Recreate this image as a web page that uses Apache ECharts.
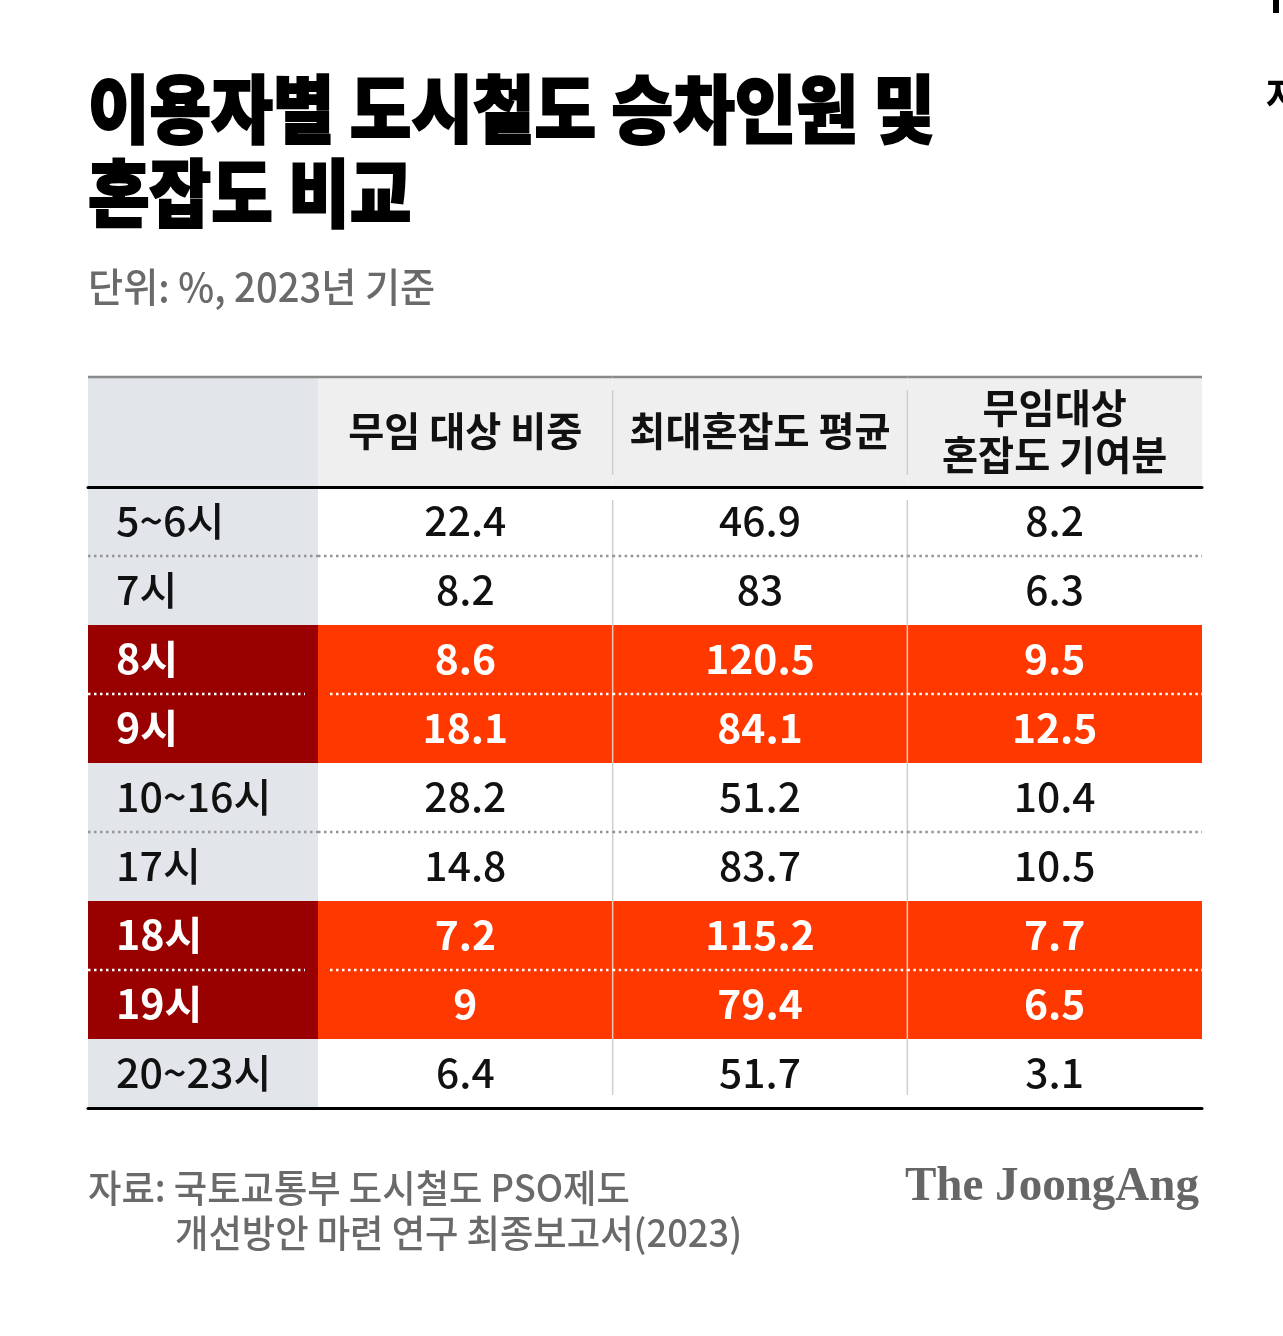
<!DOCTYPE html>
<html>
<head>
<meta charset="utf-8">
<script src="https://cdn.jsdelivr.net/npm/echarts@6/dist/echarts.min.js"></script>
<style>
  html, body { margin: 0; padding: 0; background: #fff; }
  #chart { width: 1283px; height: 1336px; }
</style>
</head>
<body>
<div id="chart"></div>
<script>
  // table data
  const ROW_LABELS = ['5~6시', '7시', '8시', '9시', '10~16시', '17시', '18시', '19시', '20~23시'];
  const FREE_SHARE = [22.4, 8.2, 8.6, 18.1, 28.2, 14.8, 7.2, 9, 6.4];
  const PEAK_CONGESTION = [46.9, 83, 120.5, 84.1, 51.2, 83.7, 115.2, 79.4, 51.7];
  const FREE_CONTRIBUTION = [8.2, 6.3, 9.5, 12.5, 10.4, 10.5, 7.7, 6.5, 3.1];
  const HIGHLIGHT_ROWS = ['8시', '9시', '18시', '19시'];
  const COLUMN_NAMES = ['무임 대상 비중', '최대혼잡도 평균', '무임대상\n혼잡도 기여분'];

  const TITLE_LINES = ['이용자별 도시철도 승차인원 및', '혼잡도 비교'];
  const UNIT_TEXT = '단위: %, 2023년 기준';
  const SOURCE_LINES = ['자료: 국토교통부 도시철도 PSO제도', '개선방안 마련 연구 최종보고서(2023)'];
  const BRAND = 'The JoongAng';

  const FONT = '"Noto Sans CJK KR", "Noto Sans", sans-serif';
  const RED = '#ff3800';
  const DARK_RED = '#990000';
  const LABEL_BG = '#e2e6ea';
  const HEAD_BG = '#efefef';
  const HEADER_H = 110;
  const DOT = { lineWidth: 2.5, lineDash: [2.5, 3.5] };

  const columns = [FREE_SHARE, PEAK_CONGESTION, FREE_CONTRIBUTION];
  const cellData = [];
  ROW_LABELS.forEach(function (r, ri) {
    columns.forEach(function (col, ci) { cellData.push([ci, ri, col[ri]]); });
  });
  const labelData = ROW_LABELS.map(function (r, ri) { return [0, ri]; });
  const headerData = COLUMN_NAMES.map(function (n, ci) { return [ci, 0]; });

  function isHot(ri) { return HIGHLIGHT_ROWS.indexOf(ROW_LABELS[ri]) >= 0; }
  function dottedAfter(ri) { return ri % 2 === 0 && ri < ROW_LABELS.length - 1; }

  function dotted(x1, x2, y, hot) {
    return {
      type: 'line', z2: 10,
      shape: { x1: x1, y1: y, x2: x2, y2: y },
      style: { stroke: hot ? '#ffffff' : '#949494', lineWidth: DOT.lineWidth, lineDash: DOT.lineDash }
    };
  }

  function renderLabel(params, api) {
    const ri = api.value(1);
    const c = api.coord([0, ri]);
    const s = api.size([1, 1]);
    const x0 = c[0] - s[0] / 2, y0 = c[1] - s[1] / 2;
    const hot = isHot(ri);
    const kids = [{
      type: 'rect', shape: { x: x0, y: y0, width: s[0], height: s[1] },
      style: { fill: hot ? DARK_RED : LABEL_BG }
    }];
    if (dottedAfter(ri)) kids.push(dotted(x0, x0 + s[0] - (hot ? 13 : 0), y0 + s[1], hot));
    kids.push({
      type: 'text', z2: 11, x: x0 + 28, y: c[1] - 1, scaleX: 1.03,
      style: {
        text: ROW_LABELS[ri], fill: hot ? '#fff' : '#111',
        fontSize: 40, fontWeight: hot ? 'bold' : 500, fontFamily: FONT,
        align: 'left', verticalAlign: 'middle'
      }
    });
    return { type: 'group', children: kids };
  }

  function renderCell(params, api) {
    const ci = api.value(0), ri = api.value(1);
    const c = api.coord([ci, ri]);
    const s = api.size([1, 1]);
    const x0 = c[0] - s[0] / 2, y0 = c[1] - s[1] / 2;
    const hot = isHot(ri);
    const kids = [{
      type: 'rect', shape: { x: x0, y: y0, width: s[0], height: s[1] },
      style: { fill: hot ? RED : '#ffffff' }
    }];
    if (ci > 0) {
      const top = ri === 0 ? y0 + 13 : y0;
      const bot = ri === ROW_LABELS.length - 1 ? y0 + s[1] - 13 : y0 + s[1];
      kids.push({
        type: 'line', z2: 9,
        shape: { x1: x0, y1: top, x2: x0, y2: bot },
        style: { stroke: hot ? 'rgba(235,235,235,0.75)' : '#cfcfcf', lineWidth: 1.5 }
      });
    }
    if (dottedAfter(ri)) kids.push(dotted(x0 + (hot && ci === 0 ? 12 : 0), x0 + s[0], y0 + s[1], hot));
    kids.push({
      type: 'text', z2: 11, x: c[0], y: c[1] - 1, scaleX: 1.02,
      style: {
        text: String(api.value(2)), fill: hot ? '#fff' : '#111',
        fontSize: 40, fontWeight: hot ? 'bold' : 500, fontFamily: FONT,
        align: 'center', verticalAlign: 'middle'
      }
    });
    return { type: 'group', children: kids };
  }

  function renderHeader(params, api) {
    const ci = api.value(0);
    const c = api.coord([ci, 0]);
    const s = api.size([1, 1]);
    const x0 = c[0] - s[0] / 2;
    const yb = c[1] - s[1] / 2;
    const yt = yb - HEADER_H;
    const kids = [
      { type: 'rect', shape: { x: x0, y: yt, width: s[0], height: HEADER_H }, style: { fill: HEAD_BG } },
      { type: 'line', z2: 10, shape: { x1: x0, y1: yt, x2: x0 + s[0], y2: yt }, style: { stroke: '#8a8a8a', lineWidth: 2.5 } }
    ];
    if (ci > 0) {
      kids.push({
        type: 'line', z2: 9, shape: { x1: x0, y1: yt + 13, x2: x0, y2: yb - 12 },
        style: { stroke: '#cfcfcf', lineWidth: 1.5 }
      });
    }
    kids.push({
      type: 'text', z2: 11, x: c[0], y: yt + HEADER_H / 2 - 1, scaleX: 0.98,
      style: {
        text: COLUMN_NAMES[ci], fill: '#111', fontSize: 40, lineHeight: 47,
        fontWeight: 600, fontFamily: FONT, align: 'center', verticalAlign: 'middle'
      }
    });
    return { type: 'group', children: kids };
  }

  function renderLabelHeader(params, api) {
    const c = api.coord([0, 0]);
    const s = api.size([1, 1]);
    const x0 = c[0] - s[0] / 2;
    const yt = c[1] - s[1] / 2 - HEADER_H;
    return {
      type: 'group', children: [
        { type: 'rect', shape: { x: x0, y: yt, width: s[0], height: HEADER_H }, style: { fill: LABEL_BG } },
        { type: 'line', z2: 10, shape: { x1: x0, y1: yt, x2: x0 + s[0], y2: yt }, style: { stroke: '#8a8a8a', lineWidth: 2.5 } }
      ]
    };
  }

  function edgeAxis(gridIndex, data, position) {
    return {
      type: 'category', gridIndex: gridIndex, data: data, position: position, z: 5,
      axisLine: { show: true, lineStyle: { color: '#000', width: 3 } },
      axisTick: { show: false }, axisLabel: { show: false }, splitLine: { show: false }
    };
  }

  function rowAxis(gridIndex) {
    return {
      type: 'category', gridIndex: gridIndex, data: ROW_LABELS, inverse: true,
      axisLine: { show: false }, axisTick: { show: false }, axisLabel: { show: false }, splitLine: { show: false }
    };
  }

  function txt(x, y, text, size, weight, color, scaleX, stroke) {
    const style = { text: text, fontSize: size, fontWeight: weight, fill: color, fontFamily: FONT, verticalAlign: 'middle' };
    if (stroke) { style.stroke = color; style.lineWidth = stroke; }
    return { type: 'text', x: x, y: y, scaleX: scaleX || 1, style: style };
  }

  const chart = echarts.init(document.getElementById('chart'));
  chart.setOption({
    backgroundColor: '#ffffff',
    animation: false,
    grid: [
      { left: 88, top: 487, width: 230, height: 621 },
      { left: 318, top: 487, width: 884, height: 621 }
    ],
    xAxis: [
      edgeAxis(0, [''], 'top'),
      edgeAxis(0, [''], 'bottom'),
      edgeAxis(1, COLUMN_NAMES, 'top'),
      edgeAxis(1, COLUMN_NAMES, 'bottom')
    ],
    yAxis: [rowAxis(0), rowAxis(1)],
    series: [
      { type: 'custom', xAxisIndex: 0, yAxisIndex: 0, data: [[0, 0]], renderItem: renderLabelHeader, clip: false },
      { type: 'custom', xAxisIndex: 2, yAxisIndex: 1, data: headerData, renderItem: renderHeader, clip: false },
      { type: 'custom', xAxisIndex: 0, yAxisIndex: 0, data: labelData, renderItem: renderLabel },
      { type: 'custom', xAxisIndex: 2, yAxisIndex: 1, data: cellData, renderItem: renderCell }
    ],
    graphic: [
      txt(88, 109, TITLE_LINES[0], 74, 900, '#000', 0.905, 2),
      txt(88, 193, TITLE_LINES[1], 74, 900, '#000', 0.905, 2),
      txt(88, 287, UNIT_TEXT, 40, 500, '#6a6a6a', 0.955),
      txt(88, 1188, SOURCE_LINES[0], 38, 500, '#6a6a6a', 0.955),
      txt(175, 1233, SOURCE_LINES[1], 38, 500, '#6a6a6a', 0.955),
      {
        type: 'text', x: 1199, y: 1188, scaleX: 0.98,
        style: {
          text: BRAND, fontSize: 48, fontWeight: 'bold', fill: '#666666',
          fontFamily: '"Liberation Serif", "DejaVu Serif", serif', align: 'right', verticalAlign: 'middle'
        }
      },
      txt(1266, 95, '자', 38, 'bold', '#000'),
      { type: 'rect', shape: { x: 1273, y: 0, width: 6, height: 13 }, style: { fill: '#000' } }
    ]
  });
</script>
</body>
</html>
